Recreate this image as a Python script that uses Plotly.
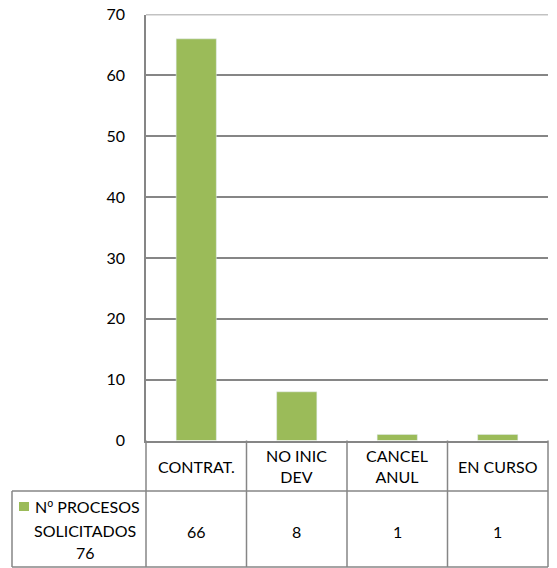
import plotly.graph_objects as go

categories = ["CONTRAT.", "NO INIC<br>DEV", "CANCEL<br>ANUL", "EN CURSO"]
values = [66, 8, 1, 1]
series_name = "Nº PROCESOS<br>SOLICITADOS<br>76"
y_ticks = [0, 10, 20, 30, 40, 50, 60, 70]

W, H = 557, 568
BAR = "#9BBB59"
LINE = "#868686"
FONT = "Lato"
FS = 16

def px(x):
    return x / W

def py(y):
    return (H - y) / H

x_left, x_right = 146, 548
y_top, y_bottom = 14.5, 440.5
row_split = 491
table_left = 12
table_bottom = 567

fig = go.Figure()
fig.add_trace(go.Bar(
    x=list(range(len(categories))), y=values, marker_color=BAR,
    width=0.4, showlegend=False, hoverinfo="y",
))

fig.update_layout(
    width=W, height=H, autosize=False,
    margin=dict(l=0, r=0, t=0, b=0, pad=0),
    paper_bgcolor="white", plot_bgcolor="white",
    font=dict(family=FONT, size=FS, color="black"),
    showlegend=False,
    xaxis=dict(domain=[px(x_left), px(x_right)], range=[-0.5, len(categories) - 0.5],
               showticklabels=False, showgrid=False, zeroline=False, automargin=False,
               showline=True, linecolor=LINE, linewidth=1.5, fixedrange=True),
    yaxis=dict(domain=[py(y_bottom), py(y_top)], range=[min(y_ticks), max(y_ticks)],
               automargin=False,
               tickvals=y_ticks, showgrid=True, gridcolor=LINE, gridwidth=1.5,
               zeroline=False, showline=True, linecolor=LINE, linewidth=1.5,
               ticks="", ticklabelstandoff=16, tickfont=dict(size=FS, family=FONT),
               fixedrange=True),
)

shapes = []
def line(x0, y0, x1, y1):
    shapes.append(dict(type="line", xref="paper", yref="paper",
                       x0=px(x0), y0=py(y0), x1=px(x1), y1=py(y1),
                       line=dict(color=LINE, width=1.5)))

shapes.append(dict(type="line", xref="x domain", yref="y", x0=0, x1=1,
                   y0=max(y_ticks), y1=max(y_ticks),
                   line=dict(color=LINE, width=1.5)))

n = len(categories)
step = (x_right - x_left) / n
for i in range(n + 1):
    xb = x_left + i * step
    line(xb, y_bottom, xb, table_bottom)
line(table_left, row_split, x_right, row_split)
line(table_left, row_split, table_left, table_bottom)
line(table_left, table_bottom, x_right, table_bottom)

shapes.append(dict(type="rect", xref="paper", yref="paper",
                   x0=px(19), x1=px(29), y0=py(511), y1=py(502),
                   fillcolor=BAR, line=dict(width=0)))
fig.update_layout(shapes=shapes)

ann = []
for i, c in enumerate(categories):
    ann.append(dict(x=i, y=py(466), xref="x", yref="paper", text=c,
                    showarrow=False, xanchor="center", yanchor="middle",
                    font=dict(size=FS, family=FONT)))
for i, v in enumerate(values):
    ann.append(dict(x=i, y=py(531), xref="x", yref="paper", text=str(v),
                    showarrow=False, xanchor="center", yanchor="middle",
                    font=dict(size=FS, family=FONT)))
lines = series_name.split("<br>")
first = lines[0].replace("º", "<span style='font-family:Noto Sans'>º</span>")
ann.append(dict(x=px(33), y=py(506.5), xref="paper", yref="paper", text=first,
                showarrow=False, xanchor="left", yanchor="middle",
                font=dict(size=FS, family=FONT)))
for k, t in enumerate(lines[1:]):
    ann.append(dict(x=px(85), y=py(530 + 22 * k), xref="paper", yref="paper", text=t,
                    showarrow=False, xanchor="center", yanchor="middle",
                    font=dict(size=FS, family=FONT)))
fig.update_layout(annotations=ann)

fig.write_html("out.html", config={"responsive": False, "displayModeBar": False},
               post_script="document.body.style.margin='0';document.body.style.overflow='hidden';")
